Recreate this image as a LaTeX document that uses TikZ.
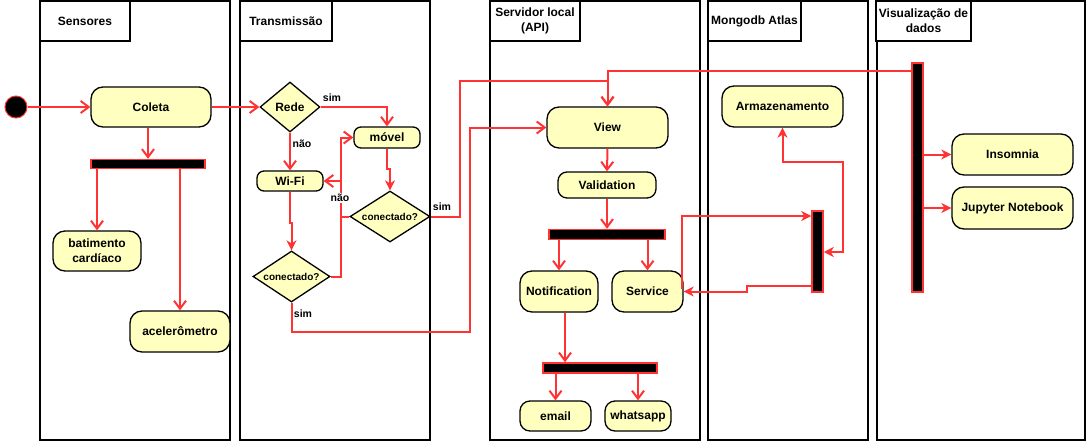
\documentclass[tikz,border=0pt]{standalone}
\usepackage{fontspec}
\setmainfont{Liberation Sans}
\usetikzlibrary{arrows.meta,shapes.geometric}
\definecolor{nfill}{HTML}{FFFFC0}
\definecolor{ered}{HTML}{FF3333}
\begin{document}
\begin{tikzpicture}[x=1pt,y=-1pt,
  lane/.style={draw=black,line width=1.5pt,inner sep=0pt,outer sep=0pt},
  tab/.style={draw=black,line width=1.5pt,fill=white,inner sep=0pt,align=center,
    font=\bfseries\fontsize{12}{15}\selectfont},
  act/.style={draw=black,line width=1.3pt,fill=nfill,rounded corners=12pt,inner sep=0pt,
    align=center,font=\bfseries\fontsize{12}{15}\selectfont},
  dec/.style={diamond,draw=black,line width=1.3pt,fill=nfill,inner sep=0pt,
    font=\bfseries\fontsize{10}{12}\selectfont},
  bar/.style={draw=ered,fill=black,line width=1.5pt,inner sep=0pt},
  flow/.style={draw=ered,line width=2pt,-{Straight Barb[length=8pt,width=12pt]}},
  cflow/.style={draw=ered,line width=2pt,-{Stealth[length=10pt,width=10pt,inset=3pt]}},
  dflow/.style={draw=ered,line width=2pt,{Stealth[length=10pt,width=10pt,inset=3pt]}-{Stealth[length=10pt,width=10pt,inset=3pt]}},
  lbl/.style={inner sep=1pt,font=\bfseries\fontsize{10.5}{12}\selectfont}]
\useasboundingbox (0,0) rectangle (1088,442);
% lanes
\node[lane,minimum width=190pt,minimum height=439pt] (L1) at (135,220.5) {};
\node[lane,minimum width=190pt,minimum height=439pt] (L2) at (335,220.5) {};
\node[lane,minimum width=210pt,minimum height=439pt] (L3) at (595,220.5) {};
\node[lane,minimum width=160pt,minimum height=439pt] (L4) at (788,220.5) {};
\node[lane,minimum width=208pt,minimum height=439pt] (L5) at (981,220.5) {};
\node[tab,minimum width=90pt,minimum height=40pt] (T1) at (85,21) {Sensores};
\node[tab,minimum width=92pt,minimum height=40pt] (T2) at (286,21) {Transmissão};
\node[tab,minimum width=90pt,minimum height=40pt] (T3) at (535,21) {Servidor local\\(API)};
\node[tab,minimum width=93pt,minimum height=40pt] (T4) at (754.5,21) {Mongodb Atlas};
\node[tab,minimum width=95pt,minimum height=40pt] (T5) at (923.5,21) {Visualização de\\dados};
% nodes
\node[circle,fill=black,draw=ered,line width=1pt,minimum size=22pt,inner sep=0pt] (start) at (16,107) {};
\node[act,minimum width=120pt,minimum height=40pt] (coleta) at (151,107) {Coleta};
\node[bar,minimum width=114pt,minimum height=9pt] (fork1) at (148,164) {};
\node[act,minimum width=88pt,minimum height=40pt] (bat) at (97,251) {batimento\\cardíaco};
\node[act,minimum width=100pt,minimum height=41pt] (acel) at (180,331.5) {acelerômetro};
\node[dec,aspect=1.2,minimum width=60pt,minimum height=50pt] (rede) at (290,107) {\fontsize{12}{14}\selectfont Rede};
\node[act,rounded corners=7pt,minimum width=66pt,minimum height=21pt] (movel) at (387,137.5) {móvel};
\node[act,rounded corners=7pt,minimum width=66pt,minimum height=20pt] (wifi) at (290,181) {Wi-Fi};
\node[dec,aspect=1.57,minimum width=80pt,minimum height=51pt] (conR) at (390,216.5) {conectado?};
\node[dec,aspect=1.51,minimum width=77pt,minimum height=51pt] (conL) at (291.5,276.5) {conectado?};
\node[act,minimum width=121pt,minimum height=41pt] (view) at (607.5,127.5) {View};
\node[act,rounded corners=9pt,minimum width=98pt,minimum height=26pt] (valid) at (607,185) {Validation};
\node[bar,minimum width=116pt,minimum height=10pt] (fork2) at (607,234.5) {};
\node[act,minimum width=78pt,minimum height=41pt] (notif) at (559,291.5) {Notification};
\node[act,minimum width=71pt,minimum height=41pt] (serv) at (647.5,291.5) {Service};
\node[bar,minimum width=114pt,minimum height=10pt] (fork3) at (600,368) {};
\node[act,rounded corners=10pt,minimum width=71pt,minimum height=30pt] (email) at (555.5,416) {email};
\node[act,rounded corners=10pt,minimum width=66pt,minimum height=30pt] (whats) at (638,416) {whatsapp};
\node[act,minimum width=121pt,minimum height=41pt] (arm) at (782.5,106.5) {Armazenamento};
\node[bar,minimum width=11pt,minimum height=81pt] (mbar) at (817.5,251.5) {};
\node[bar,minimum width=11pt,minimum height=229pt] (vbar) at (917.5,177.5) {};
\node[act,minimum width=121pt,minimum height=41pt] (ins) at (1012.5,154.5) {Insomnia};
\node[act,minimum width=121pt,minimum height=42pt] (jup) at (1012.5,208) {Jupyter Notebook};
% turning points
\coordinate (jx) at (341,0);
\coordinate (c1) at (470,332);
\coordinate (c2) at (460,81);
\coordinate (c3) at (0,71);
\coordinate (c4) at (0,216);
\coordinate (c5) at (747,286);
\coordinate (c6) at (0,252);
\coordinate (c7) at (843,162);
% edges
\draw[flow] (start) -- (coleta);
\draw[flow] (coleta) -- (rede);
\draw[flow] (fork1.north |- coleta.south) -- (fork1.north);
\draw[flow] (bat.north |- fork1.south) -- (bat.north);
\draw[flow] (acel.north |- fork1.south) -- (acel.north);
\draw[flow] (rede.east) -| (movel.north);
\draw[flow] (rede.south) -- (wifi.north);
\draw[cflow] (movel.south) -- ++(0,20) -| (conR.north);
\draw[flow] (conR.west) -- (conR.west -| jx) |- (wifi.east);
\draw[flow] (conL.east) -- (conL.east -| jx) |- (movel.west);
\draw[cflow] (wifi.south) -- ++(0,31) -| (conL.north);
\draw[flow] (conL.south) |- (c1) |- (view.west);
\draw[flow] (conR.east) -| (c2) -| (view.north);
\draw[flow] (vbar.west |- c3) -| (view.north);
\draw[flow] (view.south) -- (valid.north);
\draw[flow] (valid.south) -- (fork2.north);
\draw[flow] (notif.north |- fork2.south) -- (notif.north);
\draw[flow] (serv.north |- fork2.south) -- (serv.north);
\draw[flow] ([xshift=6pt]notif.south) -- ([xshift=6pt]notif.south |- fork3.north);
\draw[flow] (email.north |- fork3.south) -- (email.north);
\draw[flow] (whats.north |- fork3.south) -- (whats.north);
\draw[cflow] ([xshift=-1.5pt,yshift=3pt]serv.east) |- (mbar.west |- c4);
\draw[cflow] (mbar.west |- c5) -- (c5) |- (serv.east);
\draw[dflow] (arm.south) |- (c7) |- (mbar.east |- c6);
\draw[cflow] (vbar.east |- ins.west) -- (ins.west);
\draw[cflow] (vbar.east |- jup.west) -- (jup.west);
% labels
\node[lbl] (s1) at (332,98) {sim};
\node[lbl] (n1) at (302,144) {não};
\node[lbl,fill=white] (n2) at (340,198) {não};
\node[lbl] (s2) at (442,207) {sim};
\node[lbl] (s3) at (303,314) {sim};
\end{tikzpicture}
\end{document}
